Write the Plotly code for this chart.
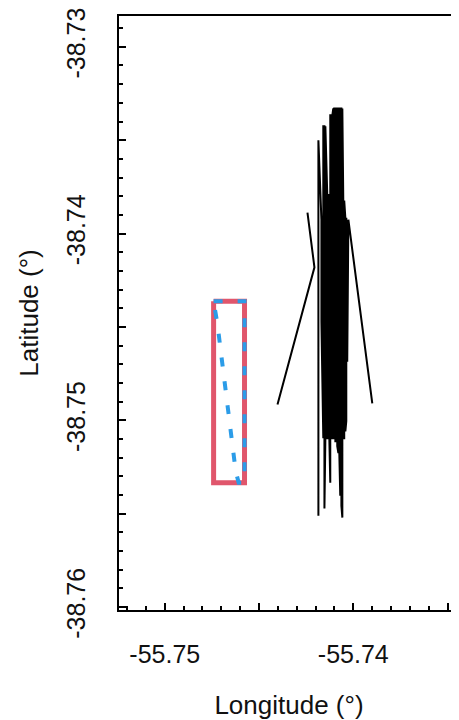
import plotly.graph_objects as go

# Black track (lon, lat); None breaks the line
track_lon = [-55.74402, -55.74206, -55.74243, None,
             -55.74185, -55.74185, -55.74169, -55.74169, -55.74159, -55.74159,
             -55.74153, -55.74153, -55.74148, -55.74148, -55.74138, -55.74138,
             -55.74132, -55.74132, -55.74127, -55.74127, -55.74122, -55.74122,
             -55.74116, -55.74116, -55.74111, -55.74111, -55.74106, -55.74106,
             -55.74101, -55.74101, -55.74095, -55.74095, -55.74090, -55.74090,
             -55.74085, -55.74085, -55.74079, -55.74079, -55.74074, -55.74074,
             -55.74069, -55.74069, -55.74063, -55.74063, -55.74058, -55.74058,
             -55.74053, -55.74053, -55.74048, -55.74048, -55.74042, -55.74042,
             -55.74037, -55.74037, -55.74032, -55.74032, -55.74026, -55.73899]
track_lat = [-38.74915, -38.74181, -38.73888, None,
             -38.75511, -38.73500, -38.73926, -38.74473, -38.75096, -38.73426,
             -38.73426, -38.75473, -38.75096, -38.73426, -38.73793, -38.75096,
             -38.75096, -38.73793, -38.73793, -38.75096, -38.75335, -38.73367,
             -38.73367, -38.75096, -38.75096, -38.73367, -38.73330, -38.75096,
             -38.75096, -38.73330, -38.73330, -38.75112, -38.75112, -38.73330,
             -38.73330, -38.75138, -38.75176, -38.73330, -38.73330, -38.75176,
             -38.75404, -38.73330, -38.73330, -38.75457, -38.75521, -38.73330,
             -38.73824, -38.75096, -38.75096, -38.73824, -38.73915, -38.75059,
             -38.75005, -38.73915, -38.74101, -38.74686, -38.73926, -38.74910]

# Red box
box_lon = [-55.74741, -55.74577, -55.74577, -55.74741, -55.74741]
box_lat = [-38.74362, -38.74362, -38.75335, -38.75335, -38.74362]

# Blue dotted path
path_lon = [-55.74741, -55.74577, -55.74577, -55.74608, -55.74624, -55.74640,
            -55.74656, -55.74672, -55.74693, -55.74704, -55.74720, -55.74741]
path_lat = [-38.74362, -38.74362, -38.75335, -38.75335, -38.75271, -38.75144,
            -38.75016, -38.74883, -38.74750, -38.74622, -38.74489, -38.74362]

x_tickvals = [-55.75, -55.745, -55.74, -55.735]
x_ticktext = ["-55.75", "", "-55.74", ""]
y_tickvals = [-38.73, -38.735, -38.74, -38.745, -38.75, -38.755, -38.76]
y_ticktext = ["-38.73", "", "-38.74", "", "-38.75", "", "-38.76"]

fig = go.Figure()
fig.add_trace(go.Scatter(x=box_lon, y=box_lat, mode="lines",
                         line=dict(color="#e0566c", width=5), hoverinfo="skip"))
fig.add_trace(go.Scatter(x=path_lon, y=path_lat, mode="lines",
                         line=dict(color="#2b9ce8", width=4, dash="9px,15px"),
                         hoverinfo="skip"))
fig.add_trace(go.Scatter(x=track_lon, y=track_lat, mode="lines",
                         connectgaps=False,
                         line=dict(color="black", width=2), hoverinfo="skip"))

font_family = "Liberation Sans, Arial, sans-serif"
fig.update_layout(
    width=451, height=712,
    margin=dict(l=111, r=0, t=4, b=110),
    paper_bgcolor="white", plot_bgcolor="white",
    showlegend=False,
    font=dict(family=font_family, size=25, color="#111111"),
)
fig.update_xaxes(
    range=[-55.75243, -55.73439], showgrid=False, zeroline=False,
    showline=True, linecolor="black", linewidth=2, mirror=True,
    tickmode="array", tickvals=x_tickvals, ticktext=x_ticktext,
    ticks="inside", ticklen=7, tickwidth=1.5, tickcolor="black",
    ticklabelstandoff=21, ticklabeloverflow="allow",
    minor=dict(tickmode="linear", tick0=-55.75, dtick=0.001, ticks="inside",
               ticklen=4, tickwidth=1.5, tickcolor="black"),
    title=dict(text="Longitude (°)", font=dict(size=26), standoff=30),
)
fig.update_yaxes(
    range=[-38.76016, -38.72835], showgrid=False, zeroline=False,
    showline=True, linecolor="black", linewidth=2, mirror=False,
    tickmode="array", tickvals=y_tickvals, ticktext=y_ticktext,
    tickangle=-90,
    ticks="inside", ticklen=7, tickwidth=1.5, tickcolor="black",
    ticklabelstandoff=22, ticklabeloverflow="allow",
    minor=dict(tickmode="linear", tick0=-38.73, dtick=0.001, ticks="inside",
               ticklen=4, tickwidth=1.5, tickcolor="black"),
    title=dict(text="Latitude (°)", font=dict(size=26), standoff=16),
)

fig.write_html("out.html")
